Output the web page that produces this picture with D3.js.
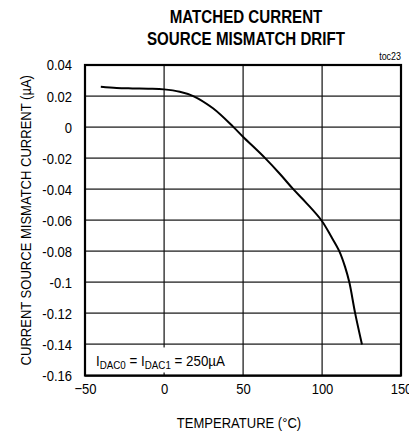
<!DOCTYPE html>
<html><head><meta charset="utf-8">
<script src="https://cdn.jsdelivr.net/npm/d3@7"></script>
<style>
body{margin:0;background:#fff;}
svg{display:block;font-family:"Liberation Sans",Arial,sans-serif;}
</style></head>
<body><div id="chart"></div>
<script>
const temperature = [-40,-30,-20,-10,0,10,18.5,31,44,50,64,73.4,81.8,90.3,99.8,106,111,114.6,117.3,121,125.3];
const mismatch = [0.026,0.0252,0.0249,0.0247,0.0243,0.0228,0.020,0.0121,0,-0.0062,-0.02,-0.0302,-0.04,-0.0491,-0.0603,-0.0708,-0.08,-0.09,-0.1,-0.12,-0.14];
const xTicks = [-50,0,50,100,150];
const yTicks = [0.04,0.02,0,-0.02,-0.04,-0.06,-0.08,-0.1,-0.12,-0.14,-0.16];
const yTickLabels = ["0.04","0.02","0","-0.02","-0.04","-0.06","-0.08","-0.1","-0.12","-0.14","-0.16"];
const titleLines = ["MATCHED CURRENT","SOURCE MISMATCH DRIFT"];

const W=409,H=434;
const m={left:85,right:8,top:65,bottom:58.5};
const svg=d3.select("#chart").append("svg").attr("width",W).attr("height",H);
const x=d3.scaleLinear().domain([-50,150]).range([m.left,W-m.right]);
const y=d3.scaleLinear().domain([-0.16,0.04]).range([H-m.bottom,m.top]);

function condense(sel,k){
  sel.each(function(){
    const len=this.getComputedTextLength();
    d3.select(this).attr("textLength",len*k).attr("lengthAdjust","spacingAndGlyphs");
  });
}

const plotW=x(150)-x(-50), plotH=y(-0.16)-y(0.04);
// grid as thin filled rects
const grid=svg.append("g");
grid.selectAll("rect.vg").data(xTicks).enter().append("rect").attr("class","vg")
 .attr("x",d=>Math.round(x(d))-0.5).attr("y",y(0.04)).attr("width",1.2).attr("height",plotH).attr("fill","#111");
grid.selectAll("rect.hg").data(yTicks).enter().append("rect").attr("class","hg")
 .attr("x",x(-50)).attr("y",d=>Math.round(y(d))-0.5).attr("width",plotW).attr("height",1.2).attr("fill","#111");

// annotation background
svg.append("rect").attr("x",x(-50)+2).attr("y",y(-0.14)+3).attr("width",145).attr("height",plotH/10-6).attr("fill","#fff");

// curve
const line=d3.line().x((d,i)=>x(temperature[i])).y(d=>y(d)).curve(d3.curveCatmullRom.alpha(0.5));
svg.append("path").attr("d",line(mismatch)).attr("fill","none").attr("stroke","#000").attr("stroke-width",2);

// border
svg.append("rect").attr("x",x(-50)).attr("y",y(0.04)).attr("width",plotW).attr("height",plotH)
 .attr("fill","none").attr("stroke","#000").attr("stroke-width",2.2);

// tick labels
const ya=svg.append("g").attr("transform",`translate(${x(-50)},0)`)
 .call(d3.axisLeft(y).tickValues(yTicks).tickFormat((d,i)=>yTickLabels[i]).tickSize(0).tickPadding(13));
ya.select(".domain").remove();
ya.selectAll("text").attr("font-size",15.5).attr("fill","#000").attr("font-family","inherit").call(condense,0.84);
const xa=svg.append("g").attr("transform",`translate(0,${y(-0.16)})`)
 .call(d3.axisBottom(x).tickValues(xTicks).tickFormat(d3.format("d")).tickSize(0).tickPadding(7));
xa.select(".domain").remove();
xa.selectAll("text").attr("font-size",15.5).attr("fill","#000").attr("font-family","inherit").call(condense,0.84);

// annotation text: I_DAC0 = I_DAC1 = 250µA (condensed via group scale)
const ag=svg.append("g").attr("transform","translate(96,366) scale(0.89,1)");
const t=ag.append("text").attr("x",0).attr("y",0).attr("font-size",15).attr("fill","#000");
t.append("tspan").text("I");
t.append("tspan").attr("font-size",11).attr("dy",3).text("DAC0");
t.append("tspan").attr("dy",-3).text(" = I");
t.append("tspan").attr("font-size",11).attr("dy",3).text("DAC1");
t.append("tspan").attr("dy",-3).text(" = 250µA");

// titles
svg.selectAll("text.title").data(titleLines).enter().append("text").attr("class","title")
 .attr("x",246).attr("y",(d,i)=>23+i*22).attr("text-anchor","middle")
 .attr("font-size",18).attr("font-weight","bold").attr("fill","#000").text(d=>d).call(condense,0.84);

svg.append("text").attr("x",401).attr("y",60).attr("text-anchor","end").attr("font-size",10.5).attr("fill","#000").text("toc23").call(condense,0.85);

svg.append("text").attr("x",239).attr("y",428).attr("text-anchor","middle").attr("font-size",15.5).attr("fill","#000").text("TEMPERATURE (°C)").call(condense,0.84);
svg.append("text").attr("transform",`translate(31,${(y(0.04)+y(-0.16))/2}) rotate(-90)`).attr("text-anchor","middle")
 .attr("font-size",15.5).attr("fill","#000").text("CURRENT SOURCE MISMATCH CURRENT (µA)").call(condense,0.84);
</script></body></html>
